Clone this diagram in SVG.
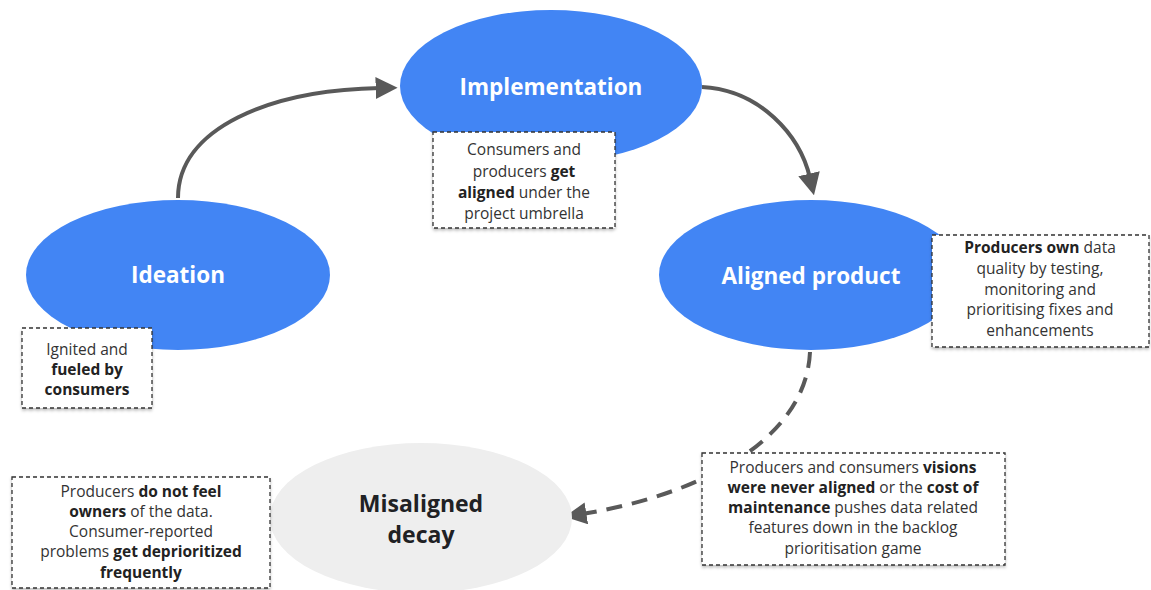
<svg xmlns="http://www.w3.org/2000/svg" width="1151" height="590" viewBox="0 0 1151 590">
<style>
.node{fill:#4285f4}
.lbl{font-family:"Open Sans",Roboto,sans-serif;font-weight:bold;font-size:22.5px;fill:#ffffff;text-anchor:middle}
.dark{fill:#202124;font-size:23px}
.box{fill:#ffffff;stroke:#333333;stroke-width:1.3;stroke-dasharray:4 3;filter:url(#sh)}
.t{font-family:"Open Sans",Roboto,sans-serif;font-size:15.5px;fill:#333333;text-anchor:middle}
.b{font-weight:bold;fill:#222222}
.conn{fill:none;stroke:#595959;stroke-width:4}
</style>
<defs>
<filter id="sh" x="-10%" y="-10%" width="120%" height="130%">
<feDropShadow dx="0" dy="2" stdDeviation="1.5" flood-color="#000" flood-opacity="0.25"/>
</filter>
<marker id="ah" viewBox="0 0 10 10" refX="2" refY="5" markerWidth="5.5" markerHeight="5.5" orient="auto" markerUnits="strokeWidth">
<path d="M0,0 L10,5 L0,10 z" fill="#595959"/>
</marker>
</defs>
<g id="connectors">
<path class="conn" d="M178,198 C178,128 270,90 380,88" marker-end="url(#ah)"/>
<path class="conn" d="M702,87 C760,90 800,135 810,178" marker-end="url(#ah)"/>
<path class="conn" d="M810,352 C806,440 700,495 582,514" stroke-dasharray="16 10" marker-end="url(#ah)"/>
</g>
<g id="ideation">
<ellipse class="node" cx="178" cy="275" rx="152" ry="75"/>
<text class="lbl" x="178" y="283">Ideation</text>
</g>
<g id="implementation">
<ellipse class="node" cx="551" cy="86" rx="151" ry="76"/>
<text class="lbl" x="551" y="95">Implementation</text>
</g>
<g id="aligned">
<ellipse class="node" cx="811" cy="275" rx="152" ry="75"/>
<text class="lbl" x="811" y="284">Aligned product</text>
</g>
<g id="misaligned">
<ellipse cx="421" cy="518" rx="151" ry="75" fill="#eeeeee"/>
<text class="lbl dark" x="421" y="512">Misaligned</text>
<text class="lbl dark" x="421" y="543">decay</text>
</g>
<g id="note-ideation">
<rect class="box" x="22" y="328" width="130" height="80"/>
<text class="t" x="87" y="355">Ignited and</text>
<text class="t b" x="87" y="375">fueled by</text>
<text class="t b" x="87" y="395">consumers</text>
</g>
<g id="note-implementation">
<rect class="box" x="433" y="132" width="182" height="96"/>
<text class="t" x="524" y="155">Consumers and</text>
<text class="t" x="524" y="177">producers <tspan class="b">get</tspan></text>
<text class="t" x="524" y="198"><tspan class="b">aligned</tspan> under the</text>
<text class="t" x="524" y="219">project umbrella</text>
</g>
<g id="note-aligned">
<rect class="box" x="932" y="235" width="217" height="112"/>
<text class="t" x="1040" y="253"><tspan class="b">Producers own</tspan> data</text>
<text class="t" x="1040" y="274">quality by testing,</text>
<text class="t" x="1040" y="295">monitoring and</text>
<text class="t" x="1040" y="315">prioritising fixes and</text>
<text class="t" x="1040" y="336">enhancements</text>
</g>
<g id="note-transition">
<rect class="box" x="702" y="453" width="303" height="112"/>
<text class="t" x="853" y="473">Producers and consumers <tspan class="b">visions</tspan></text>
<text class="t" x="853" y="493"><tspan class="b">were never aligned</tspan> or the <tspan class="b">cost of</tspan></text>
<text class="t" x="853" y="513"><tspan class="b">maintenance</tspan> pushes data related</text>
<text class="t" x="853" y="533">features down in the  backlog</text>
<text class="t" x="853" y="554">prioritisation game</text>
</g>
<g id="note-misaligned">
<rect class="box" x="12" y="477" width="258" height="111"/>
<text class="t" x="141" y="497">Producers <tspan class="b">do not feel</tspan></text>
<text class="t" x="141" y="517"><tspan class="b">owners</tspan> of the data.</text>
<text class="t" x="141" y="537">Consumer-reported</text>
<text class="t" x="141" y="557">problems  <tspan class="b">get deprioritized</tspan></text>
<text class="t" x="141" y="578"><tspan class="b">frequently</tspan></text>
</g>
</svg>
